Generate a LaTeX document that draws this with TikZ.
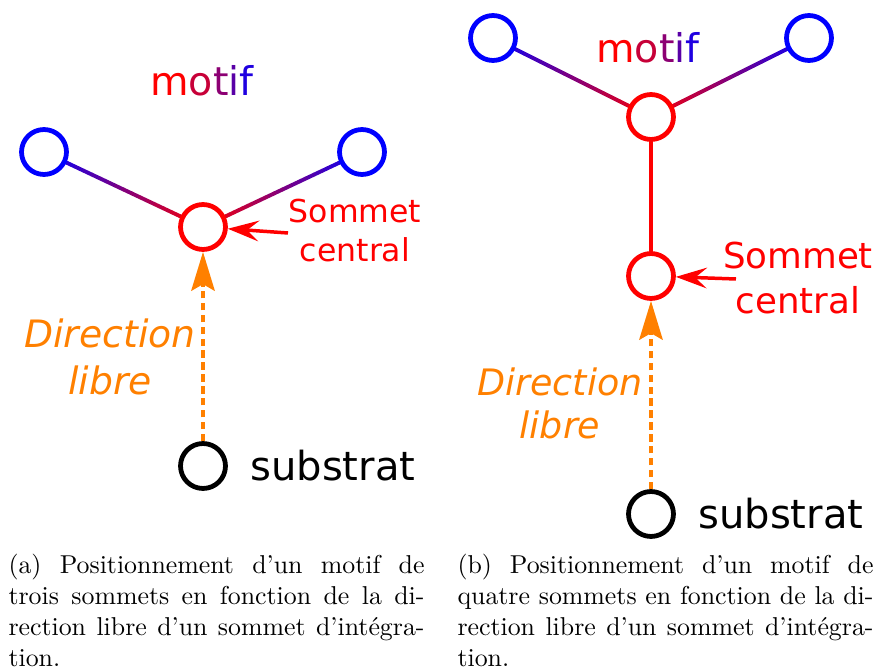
\documentclass[tikz,border=0pt]{standalone}
\usepackage{fontspec}
\usetikzlibrary{arrows.meta,positioning,calc,backgrounds}
\newfontfamily\diagfont{DejaVu Sans}
\definecolor{libreorange}{RGB}{255,128,0}
\newcommand\motifword{\textcolor{red}{m}\textcolor{red!78!blue}{o}\textcolor{red!55!blue}{t}\textcolor{red!35!blue}{i}\textcolor{red!12!blue}{f}}
\newcommand\gradedge[2]{\foreach \k [evaluate=\k as \pc using int(5*\k+2)] in {0,...,19}
  {\draw[edge,red!\pc!blue] ($(#1)!\k/20!(#2)$) -- ($(#1)!\k/20+0.05!(#2)$);}}
\tikzset{
  vtx/.style={circle,draw=#1,line width=1.85pt,minimum size=17.4pt,inner sep=0pt,fill=white},
  edge/.style={line width=1.5pt,line cap=round},
  ptr/.style={red,line width=1.35pt,-{Stealth[length=12pt,width=8pt,inset=4.5pt]}},
  libre/.style={libreorange,line width=1.7pt,dash pattern=on 2.9pt off 1.7pt,-{Stealth[length=15pt,width=9pt,inset=2.5pt]}},
  lbl/.style 2 args={font=\diagfont\fontsize{#1}{#2}\selectfont,inner sep=0pt,align=center},
  ilbl/.style 2 args={lbl={#1}{#2},font=\diagfont\itshape\fontsize{#1}{#2}\selectfont},
  caption/.style={text width=161pt,align=justify,inner sep=0pt,anchor=north west,font=\fontsize{10}{12}\selectfont}
}
\begin{document}
\begin{tikzpicture}[x=0.387pt,y=-0.387pt]
\useasboundingbox (0,0) rectangle (877,669);
% (a) motif de trois sommets
\node[vtx=blue] (ma1) at (44,152) {};\node[vtx=blue] (ma2) at (362,152) {};
\node[vtx=red] (ca) at (203,227) {};\node[vtx=black] (sa) at (203,466) {};
\begin{scope}[on background layer]\gradedge{ma1}{ca}\gradedge{ma2}{ca}\end{scope}
\node[lbl={15.3}{18}] (wa) at (202,81) {\motifword};
\node[lbl={12.2}{15.1},red] (la) at (355,231) {Sommet\\central};
\coordinate (ta) at (288,233);\draw[ptr] (ta) -- (ca);
\node[ilbl={14.6}{18.2},libreorange] (da) at (110,357) {Direction\\libre};
\draw[libre] (sa) -- (ca);
\node[lbl={15.5}{18},right=8.5pt of sa] (ua) {substrat};
\node[caption] (capa) at (8,554) {(a) Positionnement d'un motif de\linebreak trois sommets en fonction de la di-\linebreak rection libre d'un sommet d'intégra-\linebreak tion.};
% (b) motif de quatre sommets
\node[vtx=blue] (mb1) at (493,38) {};\node[vtx=blue] (mb2) at (809,38) {};
\node[vtx=red] (cb1) at (651,117) {};\node[vtx=red] (cb2) at (651,276) {};
\node[vtx=black] (sb) at (651,514) {};
\begin{scope}[on background layer]\gradedge{mb1}{cb1}\gradedge{mb2}{cb1}\end{scope}
\draw[edge,red] (cb1) -- (cb2);
\node[lbl={15.3}{18}] (wb) at (648,48) {\motifword};
\node[lbl={13.8}{17.4},red] (lb) at (798,278) {Sommet\\central};
\coordinate (tb) at (736,279);\draw[ptr] (tb) -- (cb2);
\node[ilbl={14.1}{16.6},libreorange] (db) at (560,403) {Direction\\libre};
\draw[libre] (sb) -- (cb2);
\node[lbl={15.5}{18},right=8.5pt of sb] (ub) {substrat};
\node[caption] (capb) at (457,554) {(b) Positionnement d'un motif de\linebreak quatre sommets en fonction de la di-\linebreak rection libre d'un sommet d'intégra-\linebreak tion.};
\end{tikzpicture}
\end{document}
